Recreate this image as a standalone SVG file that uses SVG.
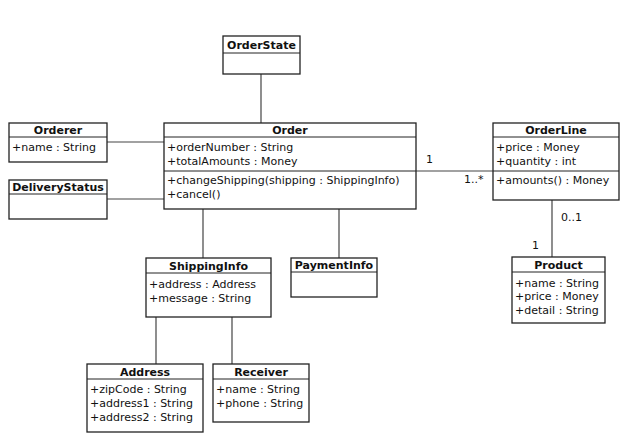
<svg xmlns="http://www.w3.org/2000/svg" width="628" height="443" viewBox="0 0 628 443">
<style>
.box{fill:#fff;stroke:#222;stroke-width:1.3}
.div{stroke:#222;stroke-width:1}
.t{font-family:"DejaVu Sans","Liberation Sans",sans-serif;font-size:11px;fill:#111}
.h{font-family:"DejaVu Sans","Liberation Sans",sans-serif;font-size:11px;font-weight:bold;fill:#111;text-anchor:middle}
.c{stroke:#444;stroke-width:1.2;fill:none}
</style>
<rect width="628" height="443" fill="#fff"/>
<g id="connectors">
<line class="c" x1="261" y1="74" x2="261" y2="123"/>
<line class="c" x1="107" y1="142" x2="164" y2="142"/>
<line class="c" x1="107" y1="199" x2="164" y2="199"/>
<line class="c" x1="416" y1="171" x2="493" y2="171"/>
<line class="c" x1="552" y1="200" x2="552" y2="257"/>
<line class="c" x1="203" y1="209" x2="203" y2="258"/>
<line class="c" x1="339" y1="209" x2="339" y2="258"/>
<line class="c" x1="156" y1="317" x2="156" y2="364"/>
<line class="c" x1="232" y1="317" x2="232" y2="364"/>
<text class="t" x="426" y="163">1</text>
<text class="t" x="464" y="183">1..*</text>
<text class="t" x="561" y="221">0..1</text>
<text class="t" x="532" y="249">1</text>
</g>
<g id="OrderState">
<rect class="box" x="223" y="36" width="77" height="38"/>
<line class="div" x1="223" y1="53" x2="300" y2="53"/>
<text class="h" x="261.5" y="49">OrderState</text>
</g>
<g id="Order">
<rect class="box" x="164" y="123" width="252" height="86"/>
<line class="div" x1="164" y1="137" x2="416" y2="137"/>
<line class="div" x1="164" y1="171" x2="416" y2="171"/>
<text class="h" x="290" y="134">Order</text>
<text class="t" x="167" y="151">+orderNumber : String</text>
<text class="t" x="167" y="165">+totalAmounts : Money</text>
<text class="t" x="167" y="184">+changeShipping(shipping : ShippingInfo)</text>
<text class="t" x="167" y="198">+cancel()</text>
</g>
<g id="Orderer">
<rect class="box" x="9" y="123" width="98" height="39"/>
<line class="div" x1="9" y1="137" x2="107" y2="137"/>
<text class="h" x="58" y="134">Orderer</text>
<text class="t" x="12" y="151">+name : String</text>
</g>
<g id="DeliveryStatus">
<rect class="box" x="9" y="180" width="98" height="39"/>
<line class="div" x1="9" y1="194" x2="107" y2="194"/>
<text class="h" x="58" y="191">DeliveryStatus</text>
</g>
<g id="OrderLine">
<rect class="box" x="493" y="123" width="126" height="77"/>
<line class="div" x1="493" y1="137" x2="619" y2="137"/>
<line class="div" x1="493" y1="171" x2="619" y2="171"/>
<text class="h" x="556" y="134">OrderLine</text>
<text class="t" x="496" y="151">+price : Money</text>
<text class="t" x="496" y="165">+quantity : int</text>
<text class="t" x="496" y="184">+amounts() : Money</text>
</g>
<g id="Product">
<rect class="box" x="512" y="257" width="93" height="66"/>
<line class="div" x1="512" y1="272" x2="605" y2="272"/>
<text class="h" x="558.5" y="269">Product</text>
<text class="t" x="515" y="287">+name : String</text>
<text class="t" x="515" y="300">+price : Money</text>
<text class="t" x="515" y="314">+detail : String</text>
</g>
<g id="ShippingInfo">
<rect class="box" x="146" y="258" width="125" height="59"/>
<line class="div" x1="146" y1="273" x2="271" y2="273"/>
<text class="h" x="208.5" y="270">ShippingInfo</text>
<text class="t" x="149" y="288">+address : Address</text>
<text class="t" x="149" y="302">+message : String</text>
</g>
<g id="PaymentInfo">
<rect class="box" x="291" y="258" width="86" height="39"/>
<line class="div" x1="291" y1="272" x2="377" y2="272"/>
<text class="h" x="334" y="269">PaymentInfo</text>
</g>
<g id="Address">
<rect class="box" x="87" y="364" width="116" height="68"/>
<line class="div" x1="87" y1="379" x2="203" y2="379"/>
<text class="h" x="145" y="376">Address</text>
<text class="t" x="90" y="393">+zipCode : String</text>
<text class="t" x="90" y="407">+address1 : String</text>
<text class="t" x="90" y="421">+address2 : String</text>
</g>
<g id="Receiver">
<rect class="box" x="213" y="364" width="96" height="58"/>
<line class="div" x1="213" y1="379" x2="309" y2="379"/>
<text class="h" x="261" y="376">Receiver</text>
<text class="t" x="216" y="393">+name : String</text>
<text class="t" x="216" y="407">+phone : String</text>
</g>
</svg>
